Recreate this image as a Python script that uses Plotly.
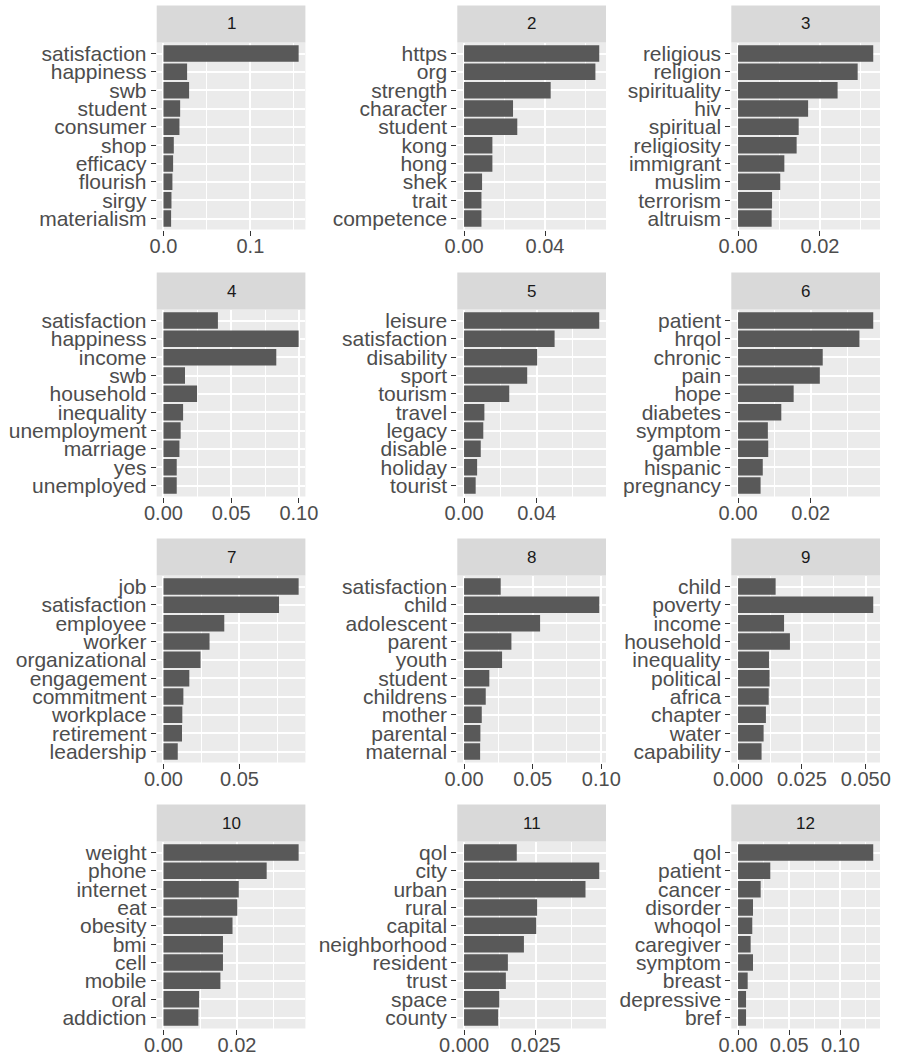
import plotly.graph_objects as go

# ---- topic term weights (top 10 terms per topic) ----
terms_01 = ["satisfaction", "happiness", "swb", "student", "consumer", "shop", "efficacy", "flourish", "sirgy", "materialism"]
beta_01 = [0.1555, 0.0272, 0.0295, 0.0192, 0.0184, 0.0119, 0.0111, 0.0103, 0.0092, 0.0088]
ticks_01 = ["0.0", "0.1"]

terms_02 = ["https", "org", "strength", "character", "student", "kong", "hong", "shek", "trait", "competence"]
beta_02 = [0.0668, 0.0649, 0.0428, 0.0242, 0.0263, 0.0140, 0.0140, 0.0089, 0.0086, 0.0086]
ticks_02 = ["0.00", "0.04"]

terms_03 = ["religious", "religion", "spirituality", "hiv", "spiritual", "religiosity", "immigrant", "muslim", "terrorism", "altruism"]
beta_03 = [0.0330, 0.0292, 0.0243, 0.0171, 0.0148, 0.0143, 0.0113, 0.0103, 0.0083, 0.0082]
ticks_03 = ["0.00", "0.02"]

terms_04 = ["satisfaction", "happiness", "income", "swb", "household", "inequality", "unemployment", "marriage", "yes", "unemployed"]
beta_04 = [0.0402, 0.0998, 0.0833, 0.0159, 0.0248, 0.0145, 0.0127, 0.0118, 0.0098, 0.0098]
ticks_04 = ["0.00", "0.05", "0.10"]

terms_05 = ["leisure", "satisfaction", "disability", "sport", "tourism", "travel", "legacy", "disable", "holiday", "tourist"]
beta_05 = [0.0745, 0.0499, 0.0403, 0.0348, 0.0249, 0.0112, 0.0106, 0.0092, 0.0072, 0.0064]
ticks_05 = ["0.00", "0.04"]

terms_06 = ["patient", "hrqol", "chronic", "pain", "hope", "diabetes", "symptom", "gamble", "hispanic", "pregnancy"]
beta_06 = [0.0372, 0.0334, 0.0233, 0.0225, 0.0153, 0.0119, 0.0082, 0.0083, 0.0068, 0.0062]
ticks_06 = ["0.00", "0.02"]

terms_07 = ["job", "satisfaction", "employee", "worker", "organizational", "engagement", "commitment", "workplace", "retirement", "leadership"]
beta_07 = [0.0889, 0.0760, 0.0400, 0.0303, 0.0244, 0.0170, 0.0131, 0.0124, 0.0122, 0.0094]
ticks_07 = ["0.00", "0.05"]

terms_08 = ["satisfaction", "child", "adolescent", "parent", "youth", "student", "childrens", "mother", "parental", "maternal"]
beta_08 = [0.0267, 0.0985, 0.0554, 0.0345, 0.0277, 0.0184, 0.0158, 0.0129, 0.0119, 0.0117]
ticks_08 = ["0.00", "0.05", "0.10"]

terms_09 = ["child", "poverty", "income", "household", "inequality", "political", "africa", "chapter", "water", "capability"]
beta_09 = [0.0147, 0.0529, 0.0180, 0.0203, 0.0121, 0.0123, 0.0120, 0.0109, 0.0100, 0.0092]
ticks_09 = ["0.000", "0.025", "0.050"]

terms_10 = ["weight", "phone", "internet", "eat", "obesity", "bmi", "cell", "mobile", "oral", "addiction"]
beta_10 = [0.0368, 0.0281, 0.0205, 0.0201, 0.0188, 0.0162, 0.0162, 0.0155, 0.0097, 0.0095]
ticks_10 = ["0.00", "0.02"]

terms_11 = ["qol", "city", "urban", "rural", "capital", "neighborhood", "resident", "trust", "space", "county"]
beta_11 = [0.0184, 0.0472, 0.0424, 0.0255, 0.0252, 0.0209, 0.0153, 0.0146, 0.0123, 0.0119]
ticks_11 = ["0.000", "0.025"]

terms_12 = ["qol", "patient", "cancer", "disorder", "whoqol", "caregiver", "symptom", "breast", "depressive", "bref"]
beta_12 = [0.1321, 0.0315, 0.0221, 0.0146, 0.0139, 0.0123, 0.0146, 0.0094, 0.0078, 0.0078]
ticks_12 = ["0.00", "0.05", "0.10"]

topics = [
    (terms_01, beta_01, ticks_01), (terms_02, beta_02, ticks_02), (terms_03, beta_03, ticks_03),
    (terms_04, beta_04, ticks_04), (terms_05, beta_05, ticks_05), (terms_06, beta_06, ticks_06),
    (terms_07, beta_07, ticks_07), (terms_08, beta_08, ticks_08), (terms_09, beta_09, ticks_09),
    (terms_10, beta_10, ticks_10), (terms_11, beta_11, ticks_11), (terms_12, beta_12, ticks_12),
]

# ---- page geometry (pixels) ----
W, H = 897, 1059
col_left = [156.7, 457.3, 731.3]
panel_w = 148.7
row_top = [42.5, 309.5, 575.5, 841.5]
panel_h = 187.0
strip_h = 37.0

BAR = "#595959"
PANEL_BG = "#EBEBEB"
STRIP_BG = "#D9D9D9"
FONT = "Liberation Sans, Arial, Helvetica, sans-serif"

fig = go.Figure()
shapes = []
annotations = []
layout_axes = {}

for i, (terms, beta, ticks) in enumerate(topics):
    k = i + 1
    r, c = divmod(i, 3)
    x0 = col_left[c] / W
    x1 = (col_left[c] + panel_w) / W
    y1 = 1 - row_top[r] / H
    y0 = 1 - (row_top[r] + panel_h) / H
    sfx = "" if k == 1 else str(k)

    fig.add_trace(go.Bar(
        x=beta, y=terms, orientation="h", width=0.9,
        marker=dict(color=BAR, line=dict(width=0)),
        xaxis="x" + sfx, yaxis="y" + sfx, showlegend=False,
        hovertemplate="%{y}: %{x}<extra></extra>",
    ))

    vmax = max(beta)
    tickvals = [float(t) for t in ticks]
    step = tickvals[1] - tickvals[0]
    minor_vals = [v + step / 2 for v in tickvals] + [tickvals[0] - step / 2]

    layout_axes["xaxis" + sfx] = dict(
        domain=[x0, x1], anchor="y" + sfx, automargin=False,
        range=[-0.05 * vmax, 1.05 * vmax],
        tickmode="array", tickvals=tickvals, ticktext=ticks,
        ticks="outside", ticklen=5, tickwidth=1.2, tickcolor="#333333",
        ticklabelstandoff=-7,
        showgrid=True, gridcolor="white", gridwidth=2,
        minor=dict(tickmode="array", tickvals=minor_vals, showgrid=True,
                   gridcolor="white", gridwidth=1, ticks=""),
        zeroline=False, showline=False,
        tickfont=dict(family=FONT, size=20, color="#4D4D4D"),
        fixedrange=True,
    )
    layout_axes["yaxis" + sfx] = dict(
        domain=[y0, y1], anchor="x" + sfx, automargin=False,
        type="category", categoryorder="array", categoryarray=terms,
        tickmode="array", tickvals=terms, ticktext=terms,
        range=[len(terms) - 0.4, -0.6],
        ticks="outside", ticklen=5, tickwidth=1.2, tickcolor="#333333",
        showgrid=True, gridcolor="white", gridwidth=2,
        zeroline=False, showline=False,
        tickfont=dict(family=FONT, size=21, color="#4D4D4D"),
        fixedrange=True,
    )

    # facet strip
    shapes.append(dict(
        type="rect", xref="paper", yref="paper",
        x0=x0, x1=x1, y0=y1, y1=1 - (row_top[r] - strip_h) / H,
        fillcolor=STRIP_BG, line=dict(width=0), layer="below",
    ))
    annotations.append(dict(
        text=str(k), xref="paper", yref="paper",
        x=(x0 + x1) / 2, y=1 - (row_top[r] - strip_h / 2) / H,
        xanchor="center", yanchor="middle", showarrow=False,
        font=dict(family=FONT, size=17, color="#1A1A1A"),
    ))

fig.update_layout(
    width=W, height=H,
    margin=dict(l=0, r=0, t=0, b=0),
    paper_bgcolor="white", plot_bgcolor=PANEL_BG,
    bargap=0.1, shapes=shapes, annotations=annotations,
    font=dict(family=FONT),
    **layout_axes,
)

fig.write_html("out.html")
